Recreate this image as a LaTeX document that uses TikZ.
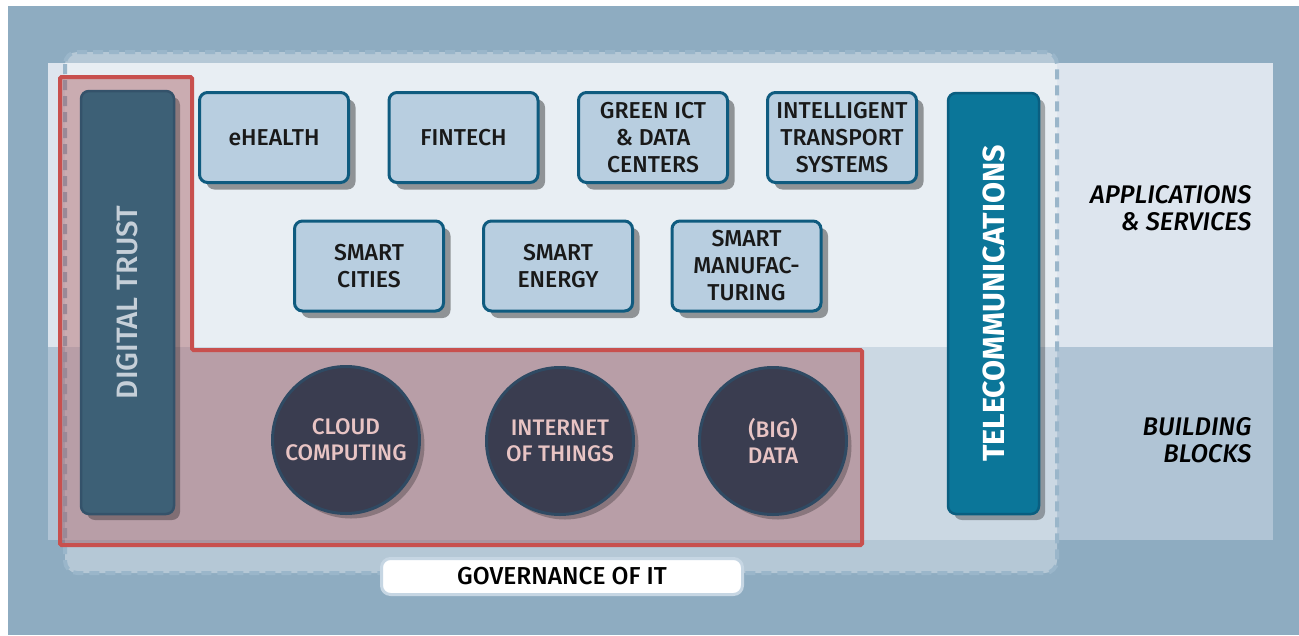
\documentclass[tikz,border=0pt]{standalone}
\usepackage{fontspec}
\setmainfont{Fira Sans Medium}[ItalicFont={Fira Sans Medium Italic}, BoldFont={Fira Sans Bold}]
\usetikzlibrary{shadows}
\definecolor{bgouter}{HTML}{8EACC1}
\definecolor{bandup}{HTML}{DDE5EE}
\definecolor{banddown}{HTML}{B0C4D5}
\definecolor{dashcol}{HTML}{9AB6CA}
\definecolor{redline}{HTML}{C8504E}
\definecolor{redfill}{RGB}{155,65,70}
\definecolor{boxfill}{HTML}{B8CEE0}
\definecolor{boxline}{HTML}{0F5B7F}
\definecolor{trustfill}{HTML}{3D6076}
\definecolor{trustline}{HTML}{34526A}
\definecolor{trusttext}{HTML}{C5CFD8}
\definecolor{telefill}{HTML}{0B7699}
\definecolor{teleline}{HTML}{0A5E80}
\definecolor{circfill}{HTML}{3A3D50}
\definecolor{circline}{HTML}{2F4A63}
\definecolor{circtext}{HTML}{E8C4C4}
\definecolor{govline}{HTML}{C6D6E3}
\tikzset{
  appbox/.style={draw=boxline, line width=3pt, fill=boxfill, rounded corners=8pt,
    minimum width=149pt, minimum height=90pt, align=center, inner sep=0pt,
    font=\fontsize{23}{27}\selectfont, text=black!90,
    drop shadow={shadow xshift=7pt, shadow yshift=-7pt, opacity=0.38, fill=black}},
  blockcirc/.style={circle, draw=circline, line width=3pt, fill=circfill,
    minimum size=147pt, align=center, inner sep=0pt, text=circtext,
    font=\fontsize{22.5}{26}\selectfont,
    drop shadow={shadow xshift=5pt, shadow yshift=-5pt, opacity=0.25, fill=black}},
  pillar/.style={line width=2.5pt, rounded corners=8pt, inner sep=0pt,
    drop shadow={shadow xshift=6pt, shadow yshift=-6pt, opacity=0.3, fill=black}},
  sidelabel/.style={align=right, anchor=east, font=\fontsize{25.5}{27}\selectfont\itshape, text=black}
}
\begin{document}
\begin{tikzpicture}[x=1pt,y=-1pt]
\useasboundingbox (0,0) rectangle (1299,635);
% background
\fill[white] (0,0) rectangle (1299,635);
\fill[bgouter] (8,6) rectangle (1299,635);
% bands
\fill[bandup] (48,63) rectangle (1273,347);
\fill[banddown] (48,347) rectangle (1273,540);
% dashed governance frame
\fill[white, opacity=0.35, rounded corners=12pt] (65,52) rectangle (1057,573);
\draw[dashcol, line width=4pt, dash pattern=on 10pt off 6pt, rounded corners=12pt] (65,52) rectangle (1057,573);
% red L shape
\fill[redfill, opacity=0.38] (60,77) -- (192,77) -- (192,350) -- (862,350) -- (862,545) -- (60,545) -- cycle;
\draw[redline, line width=4pt, rounded corners=1.5pt] (60,77) -- (192,77) -- (192,350) -- (862,350) -- (862,545) -- (60,545) -- cycle;
% pillars
\node[pillar, draw=trustline, fill=trustfill, minimum width=93pt, minimum height=423pt] (trust) at (127.5,302.5) {};
\node[rotate=90, text=trusttext, font=\fontsize{29.5}{32}\selectfont] (trustlabel) at (trust.center) {DIGITAL TRUST};
\node[pillar, draw=teleline, fill=telefill, minimum width=91pt, minimum height=421pt] (tele) at (993.5,303.5) {};
\node[rotate=90, text=white, font=\fontsize{30.5}{32}\selectfont\bfseries] (telelabel) at (tele.center) {TELECOMMUNICATIONS};
% application boxes
\node[appbox] (ehealth) at (274,137.5) {eHEALTH};
\node[appbox] (fintech) at (463.5,137.5) {FINTECH};
\node[appbox] (green) at (653,137.5) {GREEN ICT\\\& DATA\\CENTERS};
\node[appbox] (its) at (842,137.5) {INTELLIGENT\\TRANSPORT\\SYSTEMS};
\node[appbox] (cities) at (369,266) {SMART\\CITIES};
\node[appbox] (energy) at (558,266) {SMART\\ENERGY};
\node[appbox] (manuf) at (746.5,266) {SMART\\MANUFAC-\\TURING};
% building block circles
\node[blockcirc] (cloud) at (346,440) {CLOUD\\COMPUTING};
\node[blockcirc] (iot) at (560,441) {INTERNET\\OF THINGS};
\node[blockcirc] (data) at (773,441) {(BIG)\\DATA};
% governance
\node[draw=govline, line width=3pt, fill=white, rounded corners=9pt, minimum width=361pt,
  minimum height=36pt, inner sep=0pt, font=\fontsize{24.5}{26}\selectfont, text=black] (gov) at (562,576.5) {GOVERNANCE OF IT};
% side labels
\node[sidelabel] (apps) at (1255,208) {APPLICATIONS\\\& SERVICES};
\node[sidelabel] (blocks) at (1255,440) {BUILDING\\BLOCKS};
\end{tikzpicture}
\end{document}
